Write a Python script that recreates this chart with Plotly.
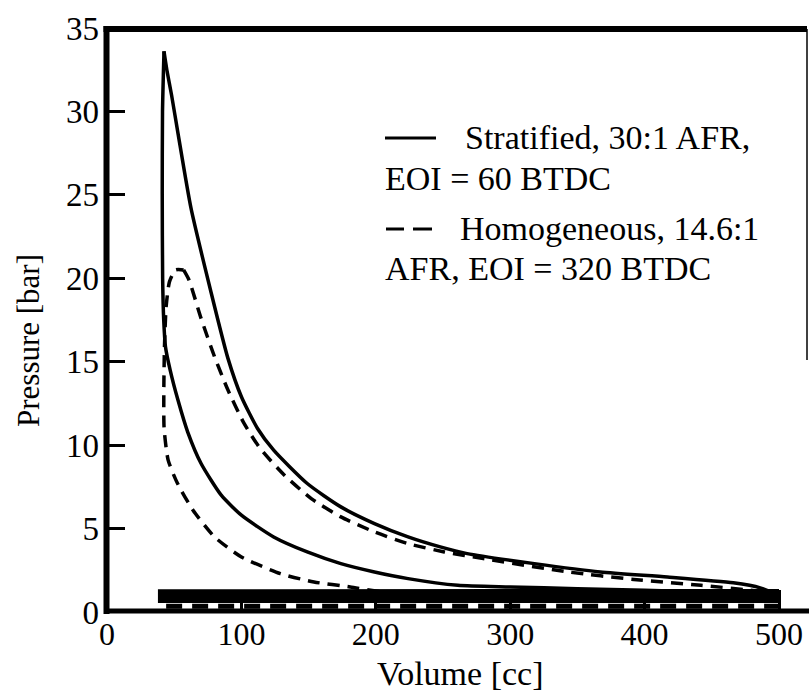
import plotly.graph_objects as go

# ---- data ----
# Stratified, 30:1 AFR, EOI = 60 BTDC  (solid)
strat_comp_v = [500, 450, 400, 350, 300, 261, 224, 199, 174, 149, 124, 100, 85, 70, 60, 52.8, 47, 43.5, 42.2, 41.4, 41.1, 41.3, 42.4]
strat_comp_p = [1.1, 1.2, 1.3, 1.4, 1.5, 1.6, 2.0, 2.4, 2.9, 3.6, 4.5, 5.8, 7.0, 8.9, 10.8, 12.7, 14.5, 15.9, 17.5, 20.0, 25.0, 30.0, 33.6]
strat_exp_v = [42.4, 44.5, 48, 52.8, 62.5, 77, 90, 100, 112, 124, 149, 174, 199, 224, 248, 268, 318, 367, 417, 466, 486, 496, 500]
strat_exp_p = [33.6, 32.5, 31.0, 28.7, 24.2, 19.3, 15.2, 12.9, 11.0, 9.7, 7.7, 6.3, 5.3, 4.5, 3.9, 3.5, 2.9, 2.4, 2.1, 1.75, 1.45, 1.1, 0.9]
strat_gas_v = [500, 300, 100, 40.5, 40.5, 100, 300, 500]
strat_gas_p = [1.17, 1.17, 1.15, 1.15, 0.75, 0.75, 0.75, 0.75]

# Homogeneous, 14.6:1 AFR, EOI = 320 BTDC  (dashed)
homo_comp_v = [500, 400, 300, 206, 181, 154, 129, 100, 80, 64, 52.5, 45.5, 42.5, 42.3, 42.8, 44, 46.5, 51, 57]
homo_comp_p = [0.9, 1.0, 1.1, 1.2, 1.5, 1.8, 2.3, 3.3, 4.5, 6.1, 7.7, 9.1, 11.0, 13.5, 16.0, 18.3, 19.8, 20.5, 20.5]
homo_exp_v = [57, 61, 70, 80, 90, 102, 114, 132, 152, 174, 199, 224, 251, 280, 343, 392, 442, 479, 495, 500]
homo_exp_p = [20.5, 19.9, 17.6, 15.3, 13.3, 11.3, 9.8, 8.2, 6.8, 5.7, 4.8, 4.1, 3.6, 3.2, 2.4, 1.95, 1.6, 1.3, 1.1, 0.9]
homo_gas_v = [44, 500]
homo_gas_p = [0.35, 0.35]

x_ticks = [0, 100, 200, 300, 400, 500]
y_ticks = [0, 5, 10, 15, 20, 25, 30, 35]

legend_lines = [
    "Stratified, 30:1 AFR,",
    "EOI = 60 BTDC",
    "Homogeneous, 14.6:1",
    "AFR, EOI = 320 BTDC",
]

FONT = "Liberation Serif"
W, H = 809, 698
L, R, T, B = 107, 2, 28, 86
PW, PH = W - L - R, H - T - B


def px(x):
    return (x - L) / PW


def py(y):
    return (H - B - y) / PH


fig = go.Figure()
solid = dict(color="black", width=3.5, shape="spline", smoothing=0.6)
dashed = dict(color="black", width=3.5, dash="12px,8px", shape="spline", smoothing=0.6)

fig.add_trace(go.Scatter(x=strat_comp_v, y=strat_comp_p, mode="lines", line=solid, showlegend=False))
fig.add_trace(go.Scatter(x=strat_exp_v, y=strat_exp_p, mode="lines", line=solid, showlegend=False))
fig.add_trace(go.Scatter(x=strat_gas_v, y=strat_gas_p, mode="lines",
                         line=dict(color="black", width=7), showlegend=False))
fig.add_trace(go.Scatter(x=homo_comp_v, y=homo_comp_p, mode="lines", line=dashed, showlegend=False))
fig.add_trace(go.Scatter(x=homo_exp_v, y=homo_exp_p, mode="lines", line=dashed, showlegend=False))
fig.add_trace(go.Scatter(x=homo_gas_v, y=homo_gas_p, mode="lines",
                         line=dict(color="black", width=5, dash="16px,10px"), showlegend=False))

# legend text
LF = 34
ann = []
ann.append(dict(x=px(463), y=py(137), text=legend_lines[0]))
ann.append(dict(x=px(383), y=py(178), text=legend_lines[1]))
ann.append(dict(x=px(458), y=py(228), text=legend_lines[2]))
ann.append(dict(x=px(383), y=py(268), text=legend_lines[3]))
for a in ann:
    a.update(xref="paper", yref="paper", xanchor="left", yanchor="middle",
             showarrow=False, font=dict(family=FONT, size=LF, color="black"))

ann.append(dict(x=px(28), y=py(341), xref="paper", yref="paper", text="Pressure [bar]",
                textangle=-90, showarrow=False, xanchor="center", yanchor="middle",
                font=dict(family=FONT, size=31, color="black")))
ann.append(dict(x=px(460), y=py(673), xref="paper", yref="paper", text="Volume [cc]",
                showarrow=False, xanchor="center", yanchor="middle",
                font=dict(family=FONT, size=34, color="black")))

shapes = [
    # legend samples
    dict(type="line", xref="paper", yref="paper", x0=px(385), x1=px(436), y0=py(138), y1=py(138),
         line=dict(color="black", width=3)),
    dict(type="line", xref="paper", yref="paper", x0=px(386), x1=px(404), y0=py(229), y1=py(229),
         line=dict(color="black", width=3)),
    dict(type="line", xref="paper", yref="paper", x0=px(413), x1=px(432), y0=py(229), y1=py(229),
         line=dict(color="black", width=3)),
    # frame
    dict(type="line", xref="paper", yref="paper", x0=px(103.5), x1=1.0, y0=py(29), y1=py(29),
         line=dict(color="black", width=6)),
    dict(type="line", xref="paper", yref="paper", x0=px(106.5), x1=px(106.5), y0=py(26), y1=py(614),
         line=dict(color="black", width=6)),
    dict(type="line", xref="paper", yref="paper", x0=px(104), x1=px(809), y0=py(611), y1=py(611),
         line=dict(color="black", width=5)),
    dict(type="line", xref="paper", yref="paper", x0=px(807), x1=px(807), y0=py(29), y1=py(360),
         line=dict(color="black", width=1.5)),
]

fig.update_layout(
    width=W, height=H,
    margin=dict(l=L, r=R, t=T, b=B, pad=0),
    plot_bgcolor="white", paper_bgcolor="white",
    annotations=ann, shapes=shapes,
    font=dict(family=FONT, size=30, color="black"),
    xaxis=dict(range=[0, 500 * PW / 672], tickvals=x_ticks, ticktext=[str(v) for v in x_ticks],
               showgrid=False, zeroline=False, showline=False,
               ticks="inside", ticklen=22, tickwidth=2.5, tickcolor="black",
               tickfont=dict(family=FONT, size=32, color="black")),
    yaxis=dict(range=[0, 35], tickvals=y_ticks, ticktext=[str(v) for v in y_ticks],
               showgrid=False, zeroline=False, showline=False,
               ticks="inside", ticklen=18, tickwidth=3, tickcolor="black",
               ticklabelstandoff=7,
               tickfont=dict(family=FONT, size=33, color="black")),
)

fig.write_html("out.html")
